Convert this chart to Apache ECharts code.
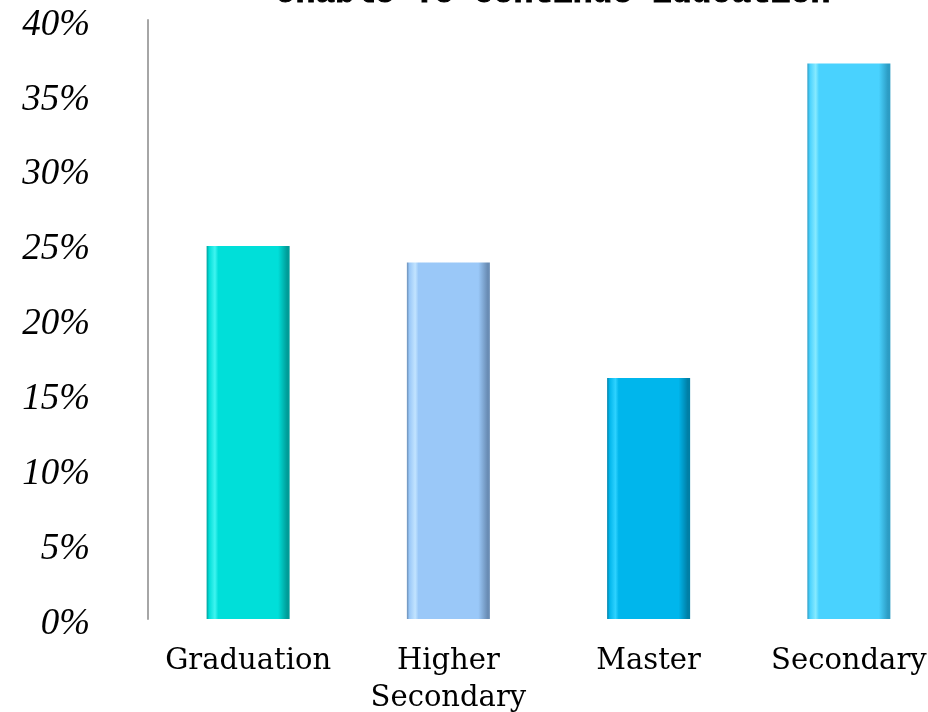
<!DOCTYPE html>
<html>
<head>
<meta charset="utf-8">
<script src="https://cdn.jsdelivr.net/npm/echarts@6/dist/echarts.min.js"></script>
<style>
html,body{margin:0;padding:0;background:#fff;}
#c{width:928px;height:712px;}
</style>
</head>
<body>
<div id="c"></div>
<script>
var titleText = 'Unable To Continue Education';
var categories = ['Graduation', 'Higher\nSecondary', 'Master', 'Secondary'];
var values = [24.9, 23.8, 16.1, 37.1];
var yTicks = [0, 5, 10, 15, 20, 25, 30, 35, 40];

var palette = [
  {main: '#00DFD9', light: '#40F4F0', dark: '#009C98'},
  {main: '#9AC8F8', light: '#C2E4FF', dark: '#6A8DB5'},
  {main: '#00B6EC', light: '#2ED2FF', dark: '#007FA6'},
  {main: '#49D2FE', light: '#86EAFF', dark: '#2C9CC4'}
];

function grad(p) {
  return new echarts.graphic.LinearGradient(0, 0, 1, 0, [
    {offset: 0, color: p.dark},
    {offset: 0.03, color: p.main},
    {offset: 0.10, color: p.light},
    {offset: 0.14, color: p.main},
    {offset: 0.86, color: p.main},
    {offset: 0.97, color: p.dark},
    {offset: 1, color: p.dark}
  ]);
}

var chart = echarts.init(document.getElementById('c'));
chart.setOption({
  animation: false,
  backgroundColor: '#fff',
  title: {
    text: titleText,
    left: 548,
    top: -28,
    textAlign: 'center',
    textStyle: {
      fontFamily: 'Liberation Mono',
      fontWeight: 'bold',
      fontSize: 33,
      color: '#000',
      textBorderColor: '#000',
      textBorderWidth: 1
    }
  },
  grid: {left: 148, width: 801, top: 20, bottom: 93, containLabel: false, outerBoundsMode: 'none'},
  xAxis: {
    type: 'category',
    data: categories,
    axisLine: {show: false},
    axisTick: {show: false},
    axisLabel: {
      interval: 0,
      margin: 24,
      fontFamily: 'DejaVu Serif',
      fontSize: 29,
      lineHeight: 37,
      color: '#000'
    }
  },
  yAxis: {
    type: 'value',
    min: yTicks[0],
    max: yTicks[yTicks.length - 1],
    interval: 5,
    axisLine: {show: true, lineStyle: {color: '#A6A6A6', width: 2}},
    axisTick: {show: false},
    splitLine: {show: false},
    axisLabel: {
      margin: 58,
      formatter: '{a|{value}%}',
      rich: {
        a: {
          padding: [10, 0, 0, 0],
          fontFamily: 'Liberation Serif',
          fontStyle: 'italic',
          fontSize: 37,
          color: '#000'
        }
      }
    }
  },
  series: [{
    type: 'bar',
    barWidth: 83,
    data: values.map(function (v, i) {
      return {value: v, itemStyle: {color: grad(palette[i])}};
    })
  }]
});
</script>
</body>
</html>
